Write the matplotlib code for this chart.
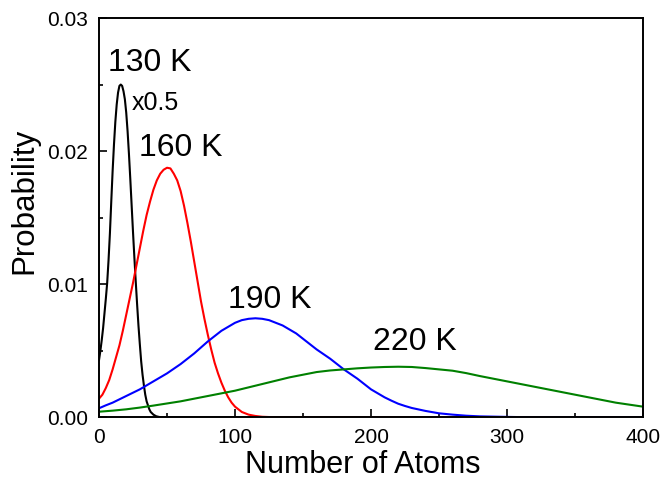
import matplotlib.pyplot as plt
from matplotlib.ticker import MultipleLocator

plt.rcParams['font.family'] = ['Liberation Sans', 'DejaVu Sans']

# 130 K (scaled x0.5)
x_130 = [0, 1, 2, 3, 4, 5, 6, 7, 8, 9, 10, 11, 12, 13, 14, 15, 16, 17, 18, 19, 20,
         21, 22, 23, 24, 25, 26, 27, 28, 29, 30, 31, 32, 33, 34, 35, 36, 37, 38, 39, 40,
         42, 44, 46, 50, 100, 400]
y_130 = [0.0043, 0.0050, 0.0058, 0.0067, 0.0078, 0.0089, 0.0101, 0.0118, 0.0138, 0.0162, 0.0185,
         0.0205, 0.0222, 0.0235, 0.0244, 0.0249, 0.0250, 0.0249, 0.0245, 0.0239, 0.0229,
         0.0215, 0.0198, 0.0179, 0.0159, 0.0139, 0.0120, 0.0102, 0.0085, 0.0069, 0.0055,
         0.0042, 0.0032, 0.0024, 0.0017, 0.0012, 0.0009, 0.0006, 0.0004, 0.0003, 0.0002,
         0.00008, 0.00003, 0.0, 0.0, 0.0, 0.0]

# 160 K
x_160 = [0, 2.5, 5, 7.5, 10, 12.5, 15, 17.5, 20, 22.5, 25, 27.5, 30, 32.5, 35, 37.5, 40,
         42.5, 45, 47.5, 50, 52.5, 55, 57.5, 60, 62.5, 65, 67.5, 70, 72.5, 75, 77.5, 80,
         82.5, 85, 87.5, 90, 92.5, 95, 97.5, 100, 105, 110, 115, 120, 130, 200, 400]
y_160 = [0.0014, 0.0017, 0.0022, 0.0028, 0.0036, 0.0045, 0.0054, 0.0065, 0.0077, 0.0089,
         0.0101, 0.0114, 0.0127, 0.0140, 0.0152, 0.0162, 0.0171, 0.0178, 0.0183, 0.0186,
         0.01875, 0.0187, 0.0183, 0.0178, 0.0170, 0.0159, 0.0146, 0.0132, 0.0117, 0.0102,
         0.0087, 0.0074, 0.0062, 0.0051, 0.0041, 0.0033, 0.0026, 0.0020, 0.0015, 0.0011,
         0.0008, 0.0004, 0.0002, 0.0001, 0.00004, 0.0, 0.0, 0.0]

# 190 K
x_190 = [0, 5, 10, 15, 20, 25, 30, 35, 40, 45, 50, 55, 60, 65, 70, 75, 80, 85, 90, 95, 100,
         105, 110, 115, 120, 125, 130, 135, 140, 145, 150, 155, 160, 165, 170, 175, 180,
         185, 190, 195, 200, 205, 210, 215, 220, 225, 230, 240, 250, 260, 270, 280, 290,
         300, 320, 400]
y_190 = [0.00068, 0.0009, 0.0011, 0.00135, 0.0016, 0.00185, 0.0021, 0.0024, 0.0027, 0.0030,
         0.0033, 0.00365, 0.0040, 0.0044, 0.0048, 0.00525, 0.0057, 0.0061, 0.0065, 0.0068,
         0.0071, 0.0073, 0.0074, 0.00744, 0.0074, 0.0073, 0.0071, 0.0069, 0.0066, 0.0063,
         0.0059, 0.0055, 0.0051, 0.00475, 0.0044, 0.0040, 0.0036, 0.00325, 0.0029, 0.0025,
         0.0021, 0.0018, 0.0015, 0.00125, 0.00102, 0.00085, 0.0007, 0.00048, 0.0003, 0.0002,
         0.00012, 0.00007, 0.00005, 0.00003, 0.0, 0.0]

# 220 K
x_220 = [0, 10, 20, 30, 40, 50, 60, 70, 80, 90, 100, 110, 120, 130, 140, 150, 160, 170, 180,
         190, 200, 210, 220, 230, 240, 250, 260, 270, 280, 290, 300, 310, 320, 330, 340, 350,
         360, 370, 380, 390, 400]
y_220 = [0.00042, 0.0005, 0.0006, 0.00073, 0.00088, 0.00104, 0.0012, 0.0014, 0.0016, 0.0018,
         0.0020, 0.00225, 0.0025, 0.00275, 0.0030, 0.0032, 0.0034, 0.00352, 0.0036, 0.00368,
         0.00374, 0.00378, 0.0038, 0.00378, 0.0037, 0.0036, 0.0035, 0.00332, 0.0031, 0.0029,
         0.0027, 0.0025, 0.0023, 0.0021, 0.0019, 0.0017, 0.0015, 0.0013, 0.0011, 0.00095,
         0.0008]

fig = plt.figure(figsize=(6.61, 4.79), dpi=100)
ax = fig.add_axes([0.1498, 0.1288, 0.823, 0.8336])

ax.plot(x_130, y_130, color='black', lw=1.5)
ax.plot(x_160, y_160, color='#ff0000', lw=1.5)
ax.plot(x_190, y_190, color='#0000ff', lw=1.5)
ax.plot(x_220, y_220, color='#008000', lw=1.5)

ax.text(37.5, 0.026, '130 K', fontsize=23, ha='center', va='baseline')
ax.text(24.1, 0.0231, 'x0.5', fontsize=18, ha='left', va='baseline')
ax.text(60, 0.0196, '160 K', fontsize=23, ha='center', va='baseline')
ax.text(125.7, 0.0082, '190 K', fontsize=23, ha='center', va='baseline')
ax.text(232.4, 0.00506, '220 K', fontsize=23, ha='center', va='baseline')

ax.set_xlim(0, 400)
ax.set_ylim(0, 0.03)
ax.xaxis.set_major_locator(MultipleLocator(100))
ax.xaxis.set_minor_locator(MultipleLocator(50))
ax.yaxis.set_major_locator(MultipleLocator(0.01))
ax.yaxis.set_minor_locator(MultipleLocator(0.005))
ax.set_yticks([0, 0.01, 0.02, 0.03])
ax.set_yticklabels(['0.00', '0.01', '0.02', '0.03'])

ax.tick_params(which='both', direction='in', top=False, right=False, labelsize=15, width=1.2)
ax.tick_params(which='major', length=5.5, pad=8)
ax.tick_params(which='minor', length=3)
for s in ax.spines.values():
    s.set_linewidth(1.4)

# axis labels placed where the reference has them
ax.set_xlabel('Number of Atoms', fontsize=22)
ax.xaxis.set_label_coords(0.485, -0.083)
ax.xaxis.label.set_va('top')
ax.set_ylabel('Probability', fontsize=22.5)
ax.yaxis.set_label_coords(-0.109, 0.542)

fig.savefig('out.png', dpi=100)
